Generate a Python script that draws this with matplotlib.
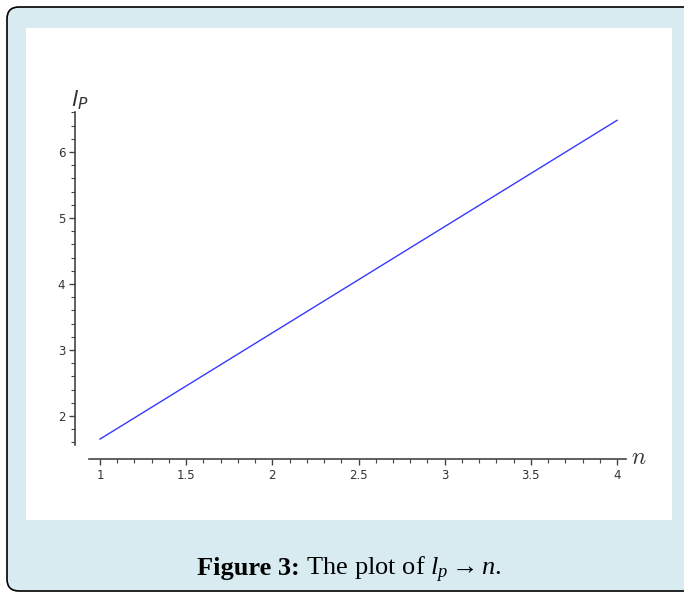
import numpy as np
import matplotlib
matplotlib.use("Agg")
import matplotlib.pyplot as plt
from matplotlib.patches import Rectangle, FancyBboxPatch

# data
n_vals = [1.0, 2.0, 3.0, 4.0]
lp_vals = [1.65, 3.26, 4.87, 6.48]

x_major = [1, 1.5, 2, 2.5, 3, 3.5, 4]
x_labels = ["1", "1.5", "2", "2.5", "3", "3.5", "4"]
y_major = [2, 3, 4, 5, 6]
y_labels = ["2", "3", "4", "5", "6"]

W, H = 684, 593
plt.rcParams['mathtext.fontset'] = 'custom'
plt.rcParams['mathtext.rm'] = 'Liberation Serif'
plt.rcParams['mathtext.it'] = 'Liberation Serif:italic'
plt.rcParams['mathtext.bf'] = 'Liberation Serif:bold'

fig = plt.figure(figsize=(W / 100, H / 100), dpi=100, facecolor="white")

# card background with rounded border
card = FancyBboxPatch((7, 2), 720, 584, boxstyle="round,pad=0,rounding_size=12",
                      transform=None, facecolor="#d7ebf1", edgecolor="black", lw=1.2,
                      zorder=-5)
fig.patches.append(card)
panel = Rectangle((26 / W, 1 - 520 / H), (672 - 26) / W, (520 - 28) / H,
                  transform=fig.transFigure, facecolor="white", edgecolor="none",
                  zorder=-4)
fig.patches.append(panel)

ax = fig.add_axes([75 / W, 1 - 459 / H, (630 - 75) / W, (459 - 105) / H])
ax.set_zorder(2)
ax.patch.set_visible(False)
ax.plot(n_vals, lp_vals, color="#3838ff", lw=1.0)

ax.set_xlim(0.855, 4.075)
ax.set_ylim(1.3485, 6.712)
for s in ["top", "right"]:
    ax.spines[s].set_visible(False)
ax.spines["left"].set_bounds(1.56, 6.6)
ax.spines["bottom"].set_bounds(0.936, 4.05)
for s in ["left", "bottom"]:
    ax.spines[s].set_color("#444444")
    ax.spines[s].set_linewidth(1.2)

ax.set_xticks(x_major)
ax.set_xticklabels(x_labels)
ax.set_xticks(np.arange(1.0, 4.01, 0.1), minor=True)
ax.set_yticks(y_major)
ax.set_yticklabels(y_labels)
ax.set_yticks(np.arange(1.6, 6.61, 0.2), minor=True)
ax.tick_params(which="major", direction="out", length=4, width=1, color="#444444",
               labelsize=8.5, labelcolor="#333333", pad=3)
ax.tick_params(which="minor", direction="out", length=3, width=0.8, color="#444444")

fig.text(80 / W, 1 - 100 / H, r"$l_P$", fontsize=16, ha="center", va="center",
         color="#333333", family="DejaVu Sans", math_fontfamily="dejavusans")
fig.text(639 / W, 1 - 457 / H, r"$n$", fontsize=17, ha="center", va="center",
         color="#333333", math_fontfamily="cm")

# caption: bold part + regular part, centred together on one baseline
cap_y = 1 - 575 / H
t1 = fig.text(0, cap_y, "Figure 3:", fontsize=19, family="Liberation Serif",
              weight="bold", ha="left", va="baseline", color="black")
t2 = fig.text(0, cap_y, r" The plot of $l_{p} \rightarrow n$.", fontsize=19,
              family="Liberation Serif", ha="left", va="baseline", color="black")
r = fig.canvas.get_renderer()
w1 = t1.get_window_extent(r).width
w2 = t2.get_window_extent(r).width
x0 = 349 - (w1 + w2) / 2
t1.set_x(x0 / W)
t2.set_x((x0 + w1) / W)

fig.savefig("out.png", dpi=100, facecolor="white")
